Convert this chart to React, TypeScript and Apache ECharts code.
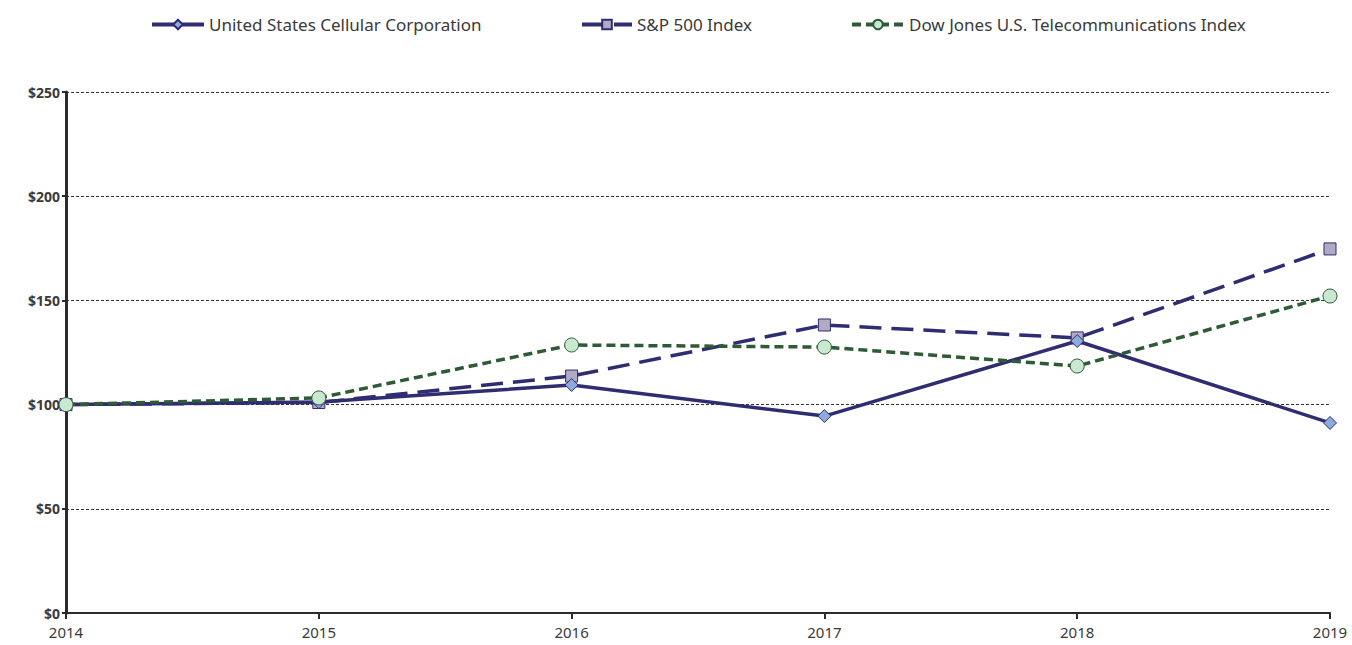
import React, { useEffect, useRef } from "react";
import * as echarts from "echarts";

const years = ["2014", "2015", "2016", "2017", "2018", "2019"];
const uscc = [100, 101.2, 109.4, 94.5, 130.5, 91.2];
const sp500 = [100, 101, 113.7, 138.2, 132, 174.7];
const dowJones = [100, 103.2, 128.6, 127.6, 118.5, 152.1];
const yTicks = [0, 50, 100, 150, 200, 250];

const NAME_A = "United States Cellular Corporation";
const NAME_B = "S&P 500 Index";
const NAME_C = "Dow Jones U.S. Telecommunications Index";

export default function App() {
  const ref = useRef<HTMLDivElement>(null);
  useEffect(() => {
    if (!ref.current) return;
    const chart = echarts.init(ref.current, undefined, { renderer: "svg" });
    const font = "'Noto Sans', 'Open Sans', sans-serif";
    const legendBase = {
      top: 11,
      itemWidth: 52,
      itemHeight: 12,
      itemGap: 0,
      lineStyle: { width: 4 },
      textStyle: { fontSize: 17, color: "#3a3a3a", fontFamily: font },
    };
    chart.setOption({
      animation: false,
      backgroundColor: "#ffffff",
      legend: [
        { ...legendBase, left: 145, data: [NAME_A] },
        { ...legendBase, left: 575, itemWidth: 50, data: [NAME_B] },
        { ...legendBase, left: 845, itemWidth: 52, data: [NAME_C] },
      ],
      grid: { left: 66, right: 22, top: 92, bottom: 32, containLabel: false },
      xAxis: {
        type: "category",
        data: years,
        boundaryGap: false,
        axisLine: { lineStyle: { color: "#2b2b2b", width: 2 } },
        axisTick: { show: true, length: 6, lineStyle: { color: "#2b2b2b", width: 2 } },
        axisLabel: { fontSize: 15, color: "#3a3a3a", fontFamily: font, margin: 11 },
        splitLine: { show: false },
      },
      yAxis: {
        type: "value",
        min: 0,
        max: 250,
        interval: 50,
        axisLine: { show: true, lineStyle: { color: "#2b2b2b", width: 3 } },
        axisTick: { show: true, length: 4, lineStyle: { color: "#2b2b2b", width: 2 } },
        axisLabel: {
          fontSize: 14,
          fontWeight: "bold",
          color: "#3a3a3a",
          fontFamily: font,
          margin: 6,
          formatter: (v: number) => (yTicks.includes(v) ? "$" + v : ""),
        },
        splitLine: { show: true, lineStyle: { color: "#333", width: 1, type: [3, 2] } },
      },
      series: [
        {
          name: NAME_A,
          type: "line",
          data: uscc,
          symbol: "diamond",
          symbolSize: 13,
          z: 3,
          lineStyle: { color: "#302c72", width: 3.5 },
          itemStyle: { color: "#8eaadc", borderColor: "#302c72", borderWidth: 1 },
        },
        {
          name: NAME_B,
          type: "line",
          data: sp500,
          symbol: "rect",
          symbolSize: 12,
          z: 2,
          lineStyle: { color: "#302c72", width: 3.5, type: [22, 10] },
          itemStyle: { color: "#b2aac4", borderColor: "#302c72", borderWidth: 1 },
        },
        {
          name: NAME_C,
          type: "line",
          data: dowJones,
          symbol: "circle",
          symbolSize: 14,
          z: 4,
          lineStyle: { color: "#2f5a36", width: 3.5, type: [9, 5] },
          itemStyle: { color: "#c8e8cf", borderColor: "#2f5a36", borderWidth: 1 },
        },
      ],
    });
    return () => chart.dispose();
  }, []);
  return (
    <div
      ref={ref}
      style={{ position: "fixed", left: 0, top: 0, width: 1352, height: 645 }}
    />
  );
}
